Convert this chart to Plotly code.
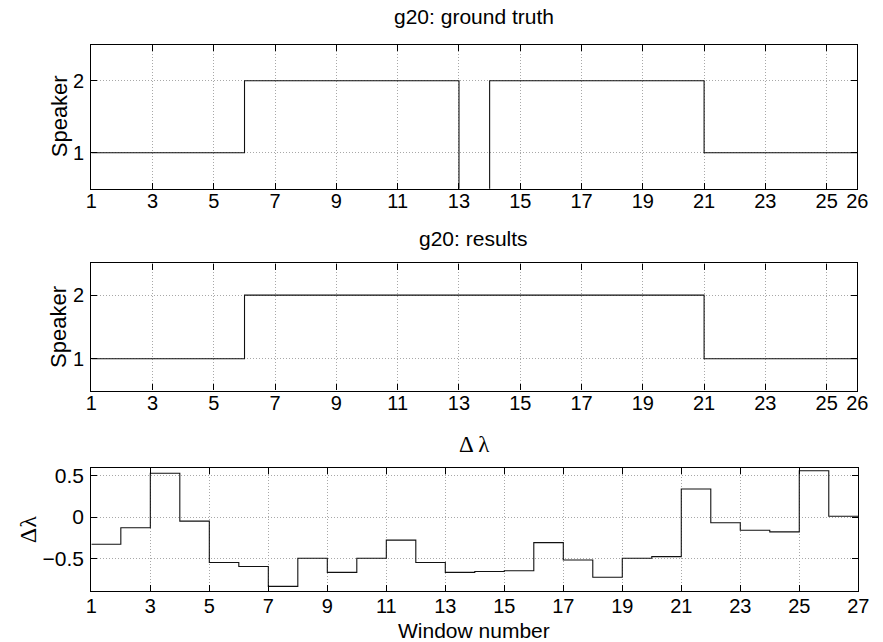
import plotly.graph_objects as go

# Window boundaries and per-window values
speaker_edges = [1, 2, 3, 4, 5, 6, 7, 8, 9, 10, 11, 12, 13, 14, 15, 16, 17, 18, 19, 20, 21, 22, 23, 24, 25, 26]
ground_truth = [1, 1, 1, 1, 1, 2, 2, 2, 2, 2, 2, 2, 0, 2, 2, 2, 2, 2, 2, 2, 1, 1, 1, 1, 1]
results = [1, 1, 1, 1, 1, 2, 2, 2, 2, 2, 2, 2, 2, 2, 2, 2, 2, 2, 2, 2, 1, 1, 1, 1, 1]

lambda_edges = [1, 2, 3, 4, 5, 6, 7, 8, 9, 10, 11, 12, 13, 14, 15, 16, 17, 18, 19, 20, 21, 22, 23, 24, 25, 26, 27]
delta_lambda = [-0.33, -0.13, 0.53, -0.05, -0.55, -0.60, -0.84, -0.50, -0.67, -0.50,
                -0.28, -0.55, -0.67, -0.66, -0.65, -0.31, -0.52, -0.73, -0.50, -0.48,
                0.34, -0.07, -0.16, -0.18, 0.56, 0.01]

speaker_ticks = [1, 3, 5, 7, 9, 11, 13, 15, 17, 19, 21, 23, 25, 26]
lambda_ticks = [1, 3, 5, 7, 9, 11, 13, 15, 17, 19, 21, 23, 25, 27]

W, H = 883, 642
SANS = "Liberation Sans, Arial, Helvetica, sans-serif"
SERIF = "Liberation Serif, Times New Roman, serif"


def stairs(values):
    # hold the last value up to the final edge
    return list(values) + [values[-1]]


fig = go.Figure()
line = dict(color="#111111", width=1.1, shape="hv")
fig.add_trace(go.Scatter(x=speaker_edges, y=stairs(ground_truth), mode="lines",
                         line=line, xaxis="x", yaxis="y", showlegend=False))
fig.add_trace(go.Scatter(x=speaker_edges, y=stairs(results), mode="lines",
                         line=line, xaxis="x2", yaxis="y2", showlegend=False))
fig.add_trace(go.Scatter(x=lambda_edges, y=stairs(delta_lambda), mode="lines",
                         line=line, xaxis="x3", yaxis="y3", showlegend=False))


def px_x(a, b):
    return [a / W, b / W]


def px_y(top, bottom):
    return [1 - bottom / H, 1 - top / H]


def axis_style(size):
    return dict(showline=True, linecolor="black", linewidth=1.3, mirror="allticks",
                ticks="inside", ticklen=6, tickcolor="black", tickwidth=1,
                showgrid=True, gridcolor="#a8a8a8", griddash="1px,2px", gridwidth=1,
                zeroline=False, tickfont=dict(family=SANS, size=size, color="black"))


fig.update_layout(
    width=W, height=H,
    margin=dict(l=0, r=0, t=0, b=0),
    paper_bgcolor="white", plot_bgcolor="white",
    xaxis=dict(domain=px_x(87, 868), range=[1, 26], tickvals=speaker_ticks,
               anchor="y", ticklabelstandoff=-6, **axis_style(20)),
    yaxis=dict(domain=px_y(41, 186), range=[0.5, 2.5], tickvals=[1, 2],
               anchor="x", ticklabelstandoff=2, **axis_style(20)),
    xaxis2=dict(domain=px_x(87, 868), range=[1, 26], tickvals=speaker_ticks,
                anchor="y2", ticklabelstandoff=-6, **axis_style(20)),
    yaxis2=dict(domain=px_y(261, 389), range=[0.5, 2.5], tickvals=[1, 2],
                anchor="x2", ticklabelstandoff=2, **axis_style(20)),
    xaxis3=dict(domain=px_x(87, 869), range=[1, 27], tickvals=lambda_ticks,
                anchor="y3", ticklabelstandoff=-3, **axis_style(20)),
    yaxis3=dict(domain=px_y(467, 591), range=[-0.9, 0.593], tickvals=[-0.5, 0, 0.5],
                anchor="x3", ticklabelstandoff=2, **axis_style(21)),
)

annotations = [
    dict(text="g20: ground truth", x=477 / W, y=1 - 13 / H, font=dict(family=SANS, size=21)),
    dict(text="g20: results", x=477 / W, y=1 - 236 / H, font=dict(family=SANS, size=21)),
    dict(text="\u0394 \u03bb", x=478 / W, y=1 - 443 / H, font=dict(family=SERIF, size=23)),
    dict(text="Window number", x=477 / W, y=1 - 630 / H, font=dict(family=SANS, size=21)),
    dict(text="Speaker", x=54 / W, y=1 - 113 / H, textangle=-90, font=dict(family=SANS, size=22)),
    dict(text="Speaker", x=54 / W, y=1 - 325 / H, textangle=-90, font=dict(family=SANS, size=22)),
    dict(text="\u0394\u03bb", x=22 / W, y=1 - 529 / H, textangle=-90, font=dict(family=SERIF, size=24)),
]
for a in annotations:
    a.update(xref="paper", yref="paper", showarrow=False, xanchor="center", yanchor="middle")
    a["font"]["color"] = "black"
fig.update_layout(annotations=annotations)

fig.write_html("out.html")
